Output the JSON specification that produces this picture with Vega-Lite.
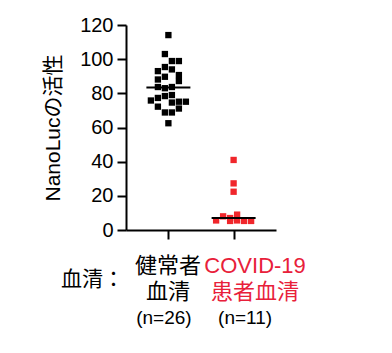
{
  "$schema": "https://vega.github.io/schema/vega-lite/v6.json",
  "autosize": {"type": "none"},
  "width": 150,
  "height": 205,
  "padding": {"left": 126, "top": 25, "right": 116, "bottom": 123},
  "background": "white",
  "config": {
    "font": "Liberation Sans, Noto Sans CJK JP",
    "view": {"stroke": null},
    "axis": {"domainColor": "black", "domainWidth": 2, "tickColor": "black", "tickWidth": 2, "labelColor": "black", "titleColor": "black", "grid": false, "titleFontWeight": "normal"}
  },
  "data": {
    "values": [
      {"group": "healthy", "slot": 0, "value": 114.1},
      {"group": "healthy", "slot": -1, "value": 103},
      {"group": "healthy", "slot": 1, "value": 98.9},
      {"group": "healthy", "slot": 3, "value": 98.9},
      {"group": "healthy", "slot": -1, "value": 95.4},
      {"group": "healthy", "slot": 1, "value": 94},
      {"group": "healthy", "slot": -3, "value": 93},
      {"group": "healthy", "slot": 3, "value": 90.7},
      {"group": "healthy", "slot": -1, "value": 89.7},
      {"group": "healthy", "slot": -3, "value": 88.1},
      {"group": "healthy", "slot": 3, "value": 87.2},
      {"group": "healthy", "slot": -3, "value": 83.7},
      {"group": "healthy", "slot": 1, "value": 83.7},
      {"group": "healthy", "slot": -1, "value": 83},
      {"group": "healthy", "slot": -1, "value": 78.4},
      {"group": "healthy", "slot": -3, "value": 77.3},
      {"group": "healthy", "slot": 1, "value": 79},
      {"group": "healthy", "slot": -5, "value": 75.8},
      {"group": "healthy", "slot": 1, "value": 74.6},
      {"group": "healthy", "slot": 3, "value": 75.1},
      {"group": "healthy", "slot": 5, "value": 75.1},
      {"group": "healthy", "slot": -3, "value": 72.2},
      {"group": "healthy", "slot": 3, "value": 71.1},
      {"group": "healthy", "slot": -1, "value": 68.8},
      {"group": "healthy", "slot": 1, "value": 68.8},
      {"group": "healthy", "slot": 0, "value": 62.5},
      {"group": "covid", "slot": 0, "value": 41},
      {"group": "covid", "slot": 0, "value": 27.3},
      {"group": "covid", "slot": 0, "value": 22.4},
      {"group": "covid", "slot": -5, "value": 5.6},
      {"group": "covid", "slot": -3, "value": 8},
      {"group": "covid", "slot": -1, "value": 5.3},
      {"group": "covid", "slot": -1, "value": 7},
      {"group": "covid", "slot": 1, "value": 9},
      {"group": "covid", "slot": 1, "value": 5.6},
      {"group": "covid", "slot": 3, "value": 5.3},
      {"group": "covid", "slot": 5, "value": 5.3}
    ]
  },
  "layer": [
    {
      "mark": {"type": "square", "size": 40, "opacity": 1, "filled": true},
      "encoding": {
        "x": {
          "field": "group", "type": "nominal", "sort": ["healthy", "covid"],
          "scale": {"type": "point", "padding": 0.65},
          "axis": {
            "orient": "bottom",
            "title": "血清：", "titleAngle": 0, "titleX": -34, "titleY": 49,
            "titleAlign": "center", "titleBaseline": "middle", "titleFontSize": 21,
            "labelExpr": "datum.value == 'healthy' ? ['健常者','血清'] : ['COVID-19','患者血清']",
            "labelAngle": 0, "labelFontSize": 22, "labelLineHeight": 26,
            "labelColor": {"condition": {"test": "datum.value == 'covid'", "value": "#e8203a"}, "value": "black"},
            "labelOffset": {"condition": {"test": "datum.value == 'covid'", "value": 21}, "value": -1},
            "tickSize": 9, "labelPadding": 16, "labelBaseline": "top", "labelOverlap": false
          }
        },
        "xOffset": {"field": "slot", "type": "quantitative", "scale": {"domain": [-5, 5], "range": [-17.5, 17.5]}},
        "y": {
          "field": "value", "type": "quantitative", "scale": {"domain": [0, 120], "nice": false},
          "axis": {"title": "NanoLucの活性", "titleFontSize": 21, "titlePadding": 16, "values": [0, 20, 40, 60, 80, 100, 120], "tickCount": 7, "labelOverlap": false, "labelFontSize": 20, "tickSize": 9, "labelPadding": 4}
        },
        "color": {"field": "group", "type": "nominal", "scale": {"domain": ["healthy", "covid"], "range": ["black", "#f0262b"]}, "legend": null}
      }
    },
    {
      "mark": {"type": "tick", "thickness": 2, "size": 44, "color": "black"},
      "encoding": {
        "x": {
          "field": "group", "type": "nominal", "sort": ["healthy", "covid"],
          "axis": {
            "orient": "bottom", "title": null, "domain": false, "ticks": false, "labelAngle": 0,
            "labelExpr": "datum.value == 'healthy' ? '(n=26)' : '(n=11)'",
            "labelFontSize": 19, "labelPadding": 78, "labelBaseline": "top", "labelOverlap": false,
            "labelOffset": {"condition": {"test": "datum.value == 'covid'", "value": 11}, "value": -5}
          }
        },
        "y": {
          "aggregate": "median", "field": "value", "type": "quantitative",
          "axis": {"title": "NanoLucの活性", "titleFontSize": 21, "titlePadding": 16, "values": [0, 20, 40, 60, 80, 100, 120], "tickCount": 7, "labelOverlap": false, "labelFontSize": 20, "tickSize": 9, "labelPadding": 4}
        }
      }
    }
  ],
  "resolve": {"axis": {"x": "independent"}}
}
